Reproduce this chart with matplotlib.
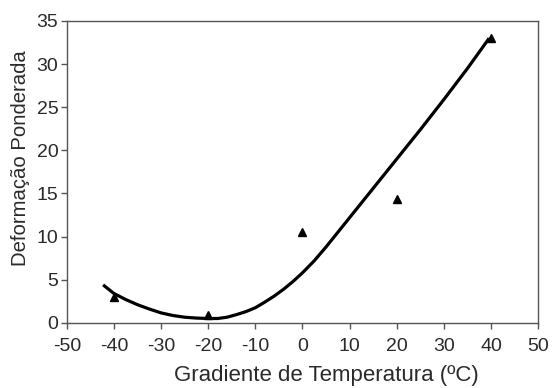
import matplotlib
matplotlib.use("Agg")
import matplotlib.pyplot as plt

# Observed data points (triangles)
obs_x = [-40, -20, 0, 20, 40]
obs_y = [3.0, 0.9, 10.5, 14.3, 33.0]

# Fitted curve
fit_x = [-42.3, -40, -37.5, -35, -32.5, -30, -27.5, -25, -22.5, -20, -18, -16, -14, -12,
         -10, -8, -6, -4, -2, 0, 2.5, 5, 7.5, 10, 12.5, 15, 20, 25, 30, 35, 39.6]
fit_y = [4.4, 3.4, 2.7, 2.1, 1.6, 1.15, 0.85, 0.65, 0.55, 0.5, 0.5, 0.65, 0.95, 1.3,
         1.75, 2.4, 3.1, 3.9, 4.8, 5.8, 7.2, 8.8, 10.5, 12.2, 13.9, 15.6, 19.0, 22.4, 25.9, 29.5, 33.0]

x_ticks = [-50, -40, -30, -20, -10, 0, 10, 20, 30, 40, 50]
y_ticks = [0, 5, 10, 15, 20, 25, 30, 35]

plt.rcParams['font.family'] = ['Liberation Sans', 'DejaVu Sans']
plt.rcParams['axes.unicode_minus'] = False

fig = plt.figure(figsize=(5.52, 3.88), dpi=100)
ax = fig.add_axes([0.121, 0.168, 0.854, 0.778])

ax.plot(fit_x, fit_y, color='black', lw=2.3, solid_capstyle='butt', solid_joinstyle='round')
ax.plot(obs_x, obs_y, linestyle='none', marker='^', color='black', markersize=6)

ax.set_xlim(-50, 50)
ax.set_ylim(0, 35)
ax.set_xticks(x_ticks)
ax.set_yticks(y_ticks)
ax.tick_params(direction='out', width=1, color='#555555', labelsize=14,
               labelcolor='#2a2a2a')
ax.tick_params(axis='x', length=4, pad=7)
ax.tick_params(axis='y', length=4.5, pad=1.5)
for s in ax.spines.values():
    s.set_color('#555555')
    s.set_linewidth(1)

ax.set_xlabel('Gradiente de Temperatura (ºC)', fontsize=16, color='#2a2a2a')
ax.set_ylabel('Deformação Ponderada', fontsize=14.6, color='#2a2a2a')
ax.xaxis.set_label_coords(0.55, -0.139)
ax.yaxis.set_label_coords(-0.077, 0.546)

fig.savefig('out.png', dpi=100)
